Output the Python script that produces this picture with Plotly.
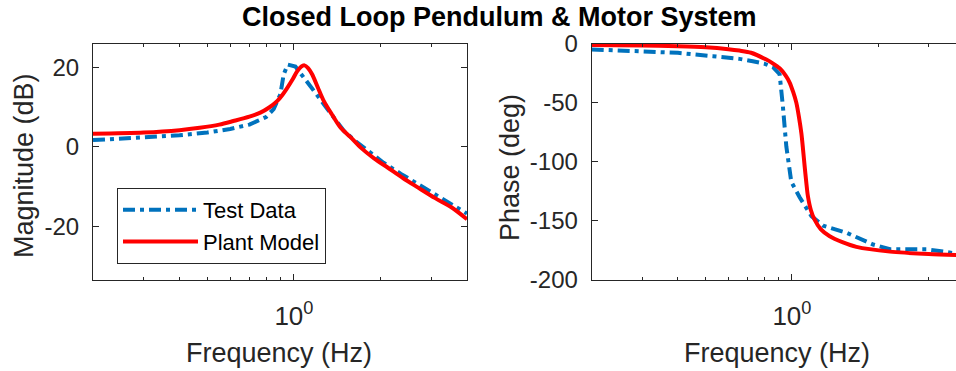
import numpy as np
import plotly.graph_objects as go

# ---------------- data ----------------
model_freq_mag = [0.2, 0.3, 0.4, 0.47, 0.55, 0.616, 0.7, 0.764, 0.82, 0.874, 0.91, 0.947,
                  0.99, 1.026, 1.06, 1.088, 1.12, 1.158, 1.21, 1.271, 1.36, 1.454, 1.57,
                  1.708, 1.9, 2.118, 2.4, 2.697, 3.1, 3.53, 4.0]
model_mag = [3.3, 3.6, 4.2, 4.8, 5.6, 6.5, 7.6, 8.6, 9.9, 11.5, 13.0, 14.8,
             17.0, 19.0, 20.2, 20.5, 19.8, 18.2, 15.0, 11.5, 8.0, 4.8, 2.5,
             -0.2, -2.9, -5.2, -7.9, -10.2, -12.9, -15.2, -18.2]

test_freq_mag = [0.2, 0.3, 0.4, 0.5, 0.6, 0.7, 0.8, 0.85, 0.897, 0.921, 0.951, 1.012,
                 1.06, 1.112, 1.19, 1.271, 1.38, 1.493, 1.64, 1.802, 2.05, 2.356, 2.7,
                 3.08, 3.5, 4.0]
test_mag = [1.7, 2.3, 2.9, 3.6, 4.5, 5.6, 7.5, 9.5, 13.2, 18.2, 20.7, 20.2,
            18.4, 16.5, 13.5, 10.7, 7.2, 4.0, 1.4, -1.0, -4.0, -6.8, -9.3,
            -11.8, -14.2, -16.8]

model_freq_phase = [0.2, 0.3, 0.4, 0.5, 0.6, 0.656, 0.72, 0.814, 0.86, 0.906, 0.95, 0.982,
                    1.01, 1.036, 1.058, 1.079, 1.094, 1.108, 1.122, 1.137, 1.165, 1.2,
                    1.26, 1.355, 1.5, 1.68, 2.2, 3.0, 4.0]
model_phase = [-1.2, -1.7, -2.3, -3.2, -4.8, -6.0, -7.8, -13.6, -17, -21, -27, -33,
               -41, -50, -62, -76, -90, -104, -117, -129, -141, -149,
               -157, -163, -168, -172, -176, -178, -179]

test_freq_phase = [0.2, 0.3, 0.4, 0.53, 0.656, 0.73, 0.8, 0.859, 0.906, 0.93, 0.956, 0.995,
                   1.064, 1.17, 1.284, 1.55, 1.92, 2.2, 2.95, 3.4, 4.0]
test_phase = [-5, -6.5, -7.9, -10.7, -13, -15, -17, -20, -26, -53, -87, -117,
              -130, -146, -154, -160, -170, -174, -174, -176, -179]

mag_ticks = [-20, 0, 20]
phase_ticks = [-200, -150, -100, -50, 0]
freq_major = [1]
freq_major_text = ["10<sup>0</sup>"]
freq_minor = [0.3, 0.4, 0.5, 0.6, 0.7, 0.8, 0.9, 2, 3]

title_text = "Closed Loop Pendulum & Motor System"

# ---------------- styling ----------------
FONT = "Liberation Sans, Arial, Helvetica, sans-serif"
AX = "#262626"
BLUE = "#0072BD"
RED = "#FF0000"
W, H = 956, 371

fig = go.Figure()

fig.add_trace(go.Scatter(x=test_freq_mag, y=test_mag, mode="lines", name="Test Data",
                         line=dict(color=BLUE, width=4, dash="12px,5px,4px,5px"),
                         xaxis="x", yaxis="y", showlegend=True))
fig.add_trace(go.Scatter(x=model_freq_mag, y=model_mag, mode="lines", name="Plant Model",
                         line=dict(color=RED, width=4, shape="spline", smoothing=0.8),
                         xaxis="x", yaxis="y", showlegend=True))
fig.add_trace(go.Scatter(x=test_freq_phase, y=test_phase, mode="lines", name="Test Data",
                         line=dict(color=BLUE, width=4, dash="12px,5px,4px,5px"),
                         xaxis="x2", yaxis="y2", showlegend=False))
fig.add_trace(go.Scatter(x=model_freq_phase, y=model_phase, mode="lines", name="Plant Model",
                         line=dict(color=RED, width=4, shape="spline", smoothing=0.8),
                         xaxis="x2", yaxis="y2", showlegend=False))

def xax(domain, rng, mirror):
    return dict(type="log", domain=domain, range=rng, automargin=False,
                tickmode="array", tickvals=freq_major, ticktext=freq_major_text,
                ticks="inside", ticklen=6, tickwidth=1, tickcolor=AX,
                minor=dict(tickmode="array", tickvals=freq_minor, ticks="inside",
                           ticklen=3.5, tickwidth=1, tickcolor=AX, showgrid=False),
                showline=True, linecolor=AX, linewidth=1, mirror=mirror,
                showgrid=False, zeroline=False, ticklabelstandoff=13,
                tickfont=dict(family=FONT, size=26, color=AX))

def yax(domain, rng, vals, anchor, mirror):
    return dict(domain=domain, range=rng, anchor=anchor, automargin=False,
                tickmode="array", tickvals=vals, ticktext=[str(v) for v in vals],
                ticks="inside", ticklen=6, tickwidth=1, tickcolor=AX,
                showline=True, linecolor=AX, linewidth=1, mirror=mirror,
                showgrid=False, zeroline=False, ticklabelstandoff=8,
                tickfont=dict(family=FONT, size=24, color=AX))

ydom = [(H - 280) / H, (H - 43.5) / H]
fig.update_layout(
    width=W, height=H, autosize=False,
    margin=dict(l=0, r=0, t=0, b=0, pad=0, autoexpand=False),
    paper_bgcolor="white", plot_bgcolor="white",
    font=dict(family=FONT, color=AX),
    xaxis=xax([93 / W, 467 / W], [np.log10(0.2), np.log10(4.0)], "allticks") | dict(anchor="y"),
    yaxis=yax(ydom, [-33.5, 26], mag_ticks, "x", "allticks"),
    xaxis2=xax([591.7 / W, 1.0], [np.log10(0.2), np.log10(3.74)], "allticks") | dict(anchor="y2"),
    yaxis2=yax(ydom, [-200, 0], phase_ticks, "x2", False),
    legend=dict(x=117 / W, y=(H - 188) / H, xanchor="left", yanchor="top",
                bgcolor="white", bordercolor=AX, borderwidth=1,
                font=dict(family=FONT, size=22, color="black"),
                itemwidth=75, tracegroupgap=0),
    annotations=[
        dict(text="<b>" + title_text.replace("&", "&amp;") + "</b>", x=499.5 / W, y=(H - 17) / H,
             xref="paper", yref="paper", showarrow=False, xanchor="center", yanchor="middle",
             font=dict(family=FONT, size=27, color="black")),
        dict(text="Magnitude (dB)", x=24 / W, y=(H - 166) / H, textangle=-90,
             xref="paper", yref="paper", showarrow=False, xanchor="center", yanchor="middle",
             font=dict(family=FONT, size=27, color=AX)),
        dict(text="Phase (deg)", x=510 / W, y=(H - 168) / H, textangle=-90,
             xref="paper", yref="paper", showarrow=False, xanchor="center", yanchor="middle",
             font=dict(family=FONT, size=27, color=AX)),
        dict(text="Frequency (Hz)", x=278.5 / W, y=(H - 353) / H,
             xref="paper", yref="paper", showarrow=False, xanchor="center", yanchor="middle",
             font=dict(family=FONT, size=27, color=AX)),
        dict(text="Frequency (Hz)", x=777 / W, y=(H - 353) / H,
             xref="paper", yref="paper", showarrow=False, xanchor="center", yanchor="middle",
             font=dict(family=FONT, size=27, color=AX)),
    ],
)

fig.write_html("out.html")
